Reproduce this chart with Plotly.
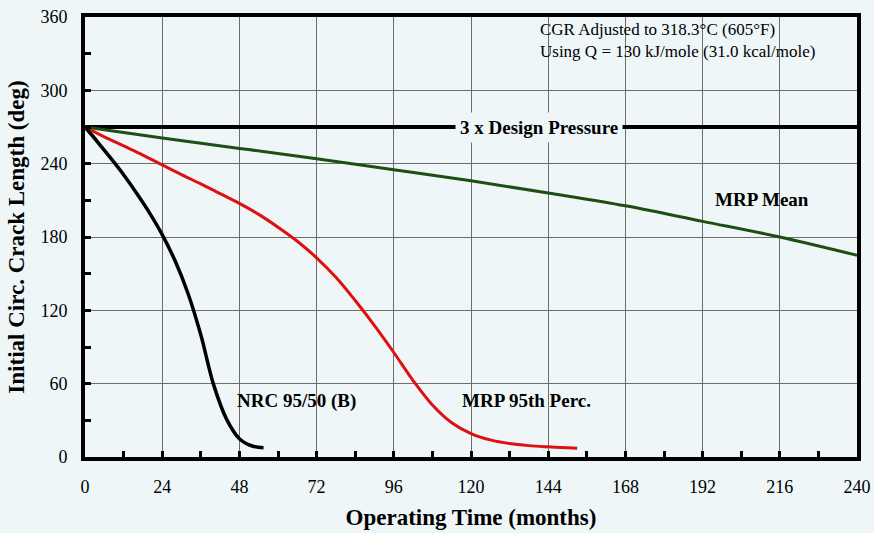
import plotly.graph_objects as go

# ---- data ----
nrc_x = [0, 4, 8, 12, 16, 20, 24, 28, 32, 36, 40, 44, 48, 52, 55.5]
nrc_y = [270, 257.5, 244.5, 231, 216, 200, 182, 160.5, 134, 100, 59, 31, 15, 9, 7.6]

mrp95_x = [0, 6, 12, 18, 24, 30, 36, 42, 48, 54, 60, 66, 72, 78, 84, 90, 96, 102,
           108, 114, 120, 126, 132, 138, 144, 150, 153]
mrp95_y = [270, 262, 254.5, 247, 239, 231, 223.5, 215.5, 207.5, 198.5, 188, 176.5, 163,
           147, 128, 107.5, 85.5, 62.5, 42.5, 28, 19.2, 14, 11, 9.3, 8.3, 7.5, 7.1]

mean_x = [0, 24, 48, 72, 96, 120, 144, 168, 192, 216, 240]
mean_y = [270, 261, 252.5, 244, 235, 226, 216, 205.5, 192.8, 180, 165]

design_x = [0, 240]
design_y = [270, 270]

x_ticks = [0, 24, 48, 72, 96, 120, 144, 168, 192, 216, 240]
y_ticks = [0, 60, 120, 180, 240, 300, 360]

BG = "#eef6f8"
SERIF = "Liberation Serif, Times New Roman, serif"

fig = go.Figure()
fig.add_trace(go.Scatter(x=design_x, y=design_y, mode="lines",
                         line=dict(color="black", width=4), showlegend=False))
fig.add_trace(go.Scatter(x=mean_x, y=mean_y, mode="lines", line_shape="spline",
                         line=dict(color="#1d5010", width=3, smoothing=1.0), showlegend=False))
fig.add_trace(go.Scatter(x=mrp95_x, y=mrp95_y, mode="lines", line_shape="spline",
                         line=dict(color="#e01010", width=3, smoothing=1.0), showlegend=False))
fig.add_trace(go.Scatter(x=nrc_x, y=nrc_y, mode="lines", line_shape="spline",
                         line=dict(color="black", width=3.5, smoothing=1.0), showlegend=False))

lab_font = dict(family=SERIF, size=19, color="black")
fig.add_annotation(x=141.1, y=270, text="<b>3 x Design Pressure</b>", showarrow=False,
                   font=lab_font, bgcolor=BG, borderpad=4)
fig.add_annotation(x=210.6, y=211, text="<b>MRP Mean</b>", showarrow=False, font=lab_font)
fig.add_annotation(x=65.6, y=46, text="<b>NRC 95/50 (B)</b>", showarrow=False, font=lab_font)
fig.add_annotation(x=137.3, y=46.6, text="<b>MRP 95th Perc.</b>", showarrow=False, font=lab_font)
fig.add_annotation(x=140.7, y=341, xanchor="left", yanchor="middle", align="left",
                   text="CGR Adjusted to 318.3°C (605°F)<br>Using Q = 130 kJ/mole (31.0 kcal/mole)",
                   showarrow=False, font=dict(family=SERIF, size=17, color="black"))

axis_common = dict(showline=True, linecolor="black", linewidth=4, mirror=True,
                   showgrid=True, gridcolor="#6e6e6e", gridwidth=1, zeroline=False,
                   ticks="inside", ticklen=6, tickwidth=3, tickcolor="black",
                   automargin=False,
                   tickfont=dict(family=SERIF, size=18, color="black"))

fig.update_xaxes(range=[0, 240], tickvals=x_ticks, ticktext=[str(v) for v in x_ticks],
                 ticklabelstandoff=10,
                 minor=dict(dtick=12, tick0=0, ticks="inside", ticklen=6, tickwidth=3,
                            tickcolor="black", showgrid=False),
                 title=dict(text="<b>Operating Time (months)</b>", standoff=14,
                            font=dict(family=SERIF, size=23, color="black")),
                 **axis_common)
fig.update_yaxes(range=[0, 360], tickvals=y_ticks, ticktext=[str(v) for v in y_ticks],
                 ticklabelstandoff=10,
                 minor=dict(dtick=30, tick0=0, ticks="inside", ticklen=6, tickwidth=3,
                            tickcolor="black", showgrid=False),
                 title=dict(text="<b>Initial Circ. Crack Length (deg)</b>", standoff=10,
                            font=dict(family=SERIF, size=23, color="black")),
                 **axis_common)

fig.update_layout(width=874, height=533, margin=dict(l=85, r=17, t=17, b=76),
                  paper_bgcolor=BG, plot_bgcolor=BG, showlegend=False)

fig.write_html("out.html", config={"displayModeBar": False},
               post_script="document.body.style.margin='0';document.body.style.background='%s';" % BG)
